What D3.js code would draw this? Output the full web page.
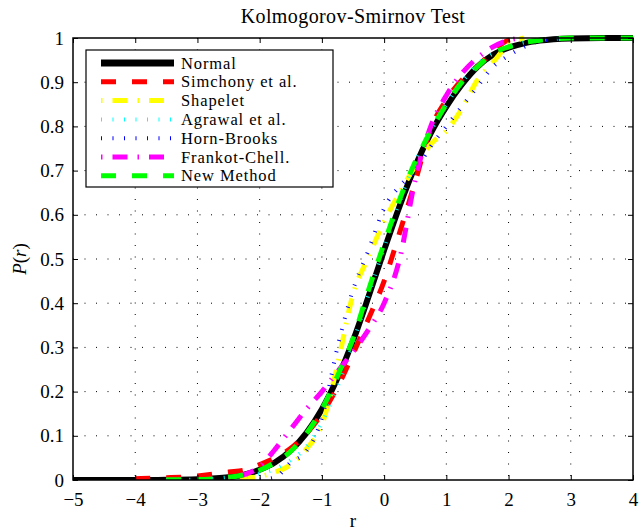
<!DOCTYPE html>
<html><head><meta charset="utf-8">
<script src="https://cdn.jsdelivr.net/npm/d3@7"></script>
<style>body{margin:0;background:#fff}svg{display:block}</style>
</head><body><svg id="c" width="639" height="530"></svg>
<script>
const rGrid = [-5,-4,-3.5,-3,-2.5,-2.25,-2,-1.75,-1.5,-1.25,-1,-0.75,-0.5,-0.25,0,0.25,0.5,0.75,1,1.25,1.5,1.75,2,2.25,2.5,3,3.5,4];
const normalP   = [0,0,0.0003,0.0015,0.006,0.012,0.023,0.04,0.067,0.106,0.16,0.23,0.315,0.415,0.52,0.62,0.71,0.785,0.845,0.895,0.935,0.962,0.978,0.988,0.994,0.999,1,1];
const simchonyP = [null,0.003,0.005,0.009,0.018,0.022,0.035,0.05,0.072,0.105,0.15,0.21,0.285,0.365,0.45,0.56,0.675,0.795,0.86,0.905,0.935,0.97,0.995,1,null,null,null,null];
const shapeletP = [null,null,null,null,0.002,0.004,0.008,0.018,0.035,0.07,0.125,0.26,0.42,0.505,0.585,0.65,0.71,0.76,0.79,0.84,0.905,0.945,0.985,1,null,null,null,null];
const agrawalP  = [null,null,0.0005,0.001,0.006,0.01,0.015,0.025,0.045,0.075,0.13,0.21,0.31,0.42,0.525,0.63,0.72,0.79,0.85,0.9,0.94,0.965,0.98,0.99,0.995,1,null,null];
const hornP     = [null,null,null,null,null,null,0.001,0.006,0.04,0.065,0.14,0.3,0.43,0.52,0.615,0.665,0.7,0.755,0.8,0.845,0.89,0.935,0.96,0.98,0.993,1,null,null];
const frankotP  = [null,null,null,null,0.003,0.012,0.03,0.07,0.115,0.16,0.2,0.245,0.29,0.34,0.4,0.5,0.68,0.8,0.87,0.92,0.955,0.98,0.995,1,null,null,null,null];
const newP      = [null,null,0.0005,0.001,0.006,0.012,0.022,0.04,0.065,0.105,0.16,0.235,0.32,0.43,0.535,0.635,0.72,0.79,0.85,0.9,0.935,0.965,0.98,0.99,0.995,1,1,1];
const seriesNames = ["Normal","Simchony et al.","Shapelet","Agrawal et al.","Horn-Brooks","Frankot-Chell.","New Method"];
const seriesVals = [normalP,simchonyP,shapeletP,agrawalP,hornP,frankotP,newP];
const seriesColors = ["#000000","#ff0000","#ffff00","#00ffff","#0000ff","#ff00ff","#00ff00"];
const seriesWidths = [6,5,5,4,4,5,5];
const seriesDash = [null,"15,16","1.5,10,15,10","1,10.5","1,10.5","1.5,10,15,10","15,16"];
const xTicks = [-5,-4,-3,-2,-1,0,1,2,3,4];
const yTicks = [0,0.1,0.2,0.3,0.4,0.5,0.6,0.7,0.8,0.9,1];
const titleText = "Kolmogorov-Smirnov Test";

const FONT = "'Liberation Serif','Times New Roman',Times,serif";
const svg = d3.select("#c").attr("font-family",FONT);
const L=73,R=633,T=38,B=480;
const x = d3.scaleLinear().domain([-5,4]).range([L,R]);
const y = d3.scaleLinear().domain([0,1]).range([B,T]);

// grid
const g = svg.append("g");
xTicks.slice(1,-1).forEach(t=>g.append("line").attr("x1",x(t)).attr("x2",x(t)).attr("y1",T).attr("y2",B)
  .attr("stroke","#000").attr("stroke-width",1).attr("stroke-dasharray","1,10.5"));
yTicks.slice(1,-1).forEach(t=>g.append("line").attr("y1",y(t)).attr("y2",y(t)).attr("x1",L).attr("x2",R)
  .attr("stroke","#000").attr("stroke-width",1).attr("stroke-dasharray","1,10.5"));

// curves
svg.append("clipPath").attr("id","pc").append("rect").attr("x",L).attr("y",T-3).attr("width",R-L).attr("height",B-T+3);
const line = d3.line().defined(d=>d[1]!==null).x(d=>x(d[0])).y(d=>y(d[1])).curve(d3.curveMonotoneX);
seriesVals.forEach((vals,i)=>{
  const pts = rGrid.map((r,j)=>[r,vals[j]]);
  svg.append("path").attr("d",line(pts)).attr("fill","none").attr("stroke",seriesColors[i])
    .attr("stroke-width",seriesWidths[i]).attr("stroke-dasharray",seriesDash[i]).attr("clip-path","url(#pc)");
});

// axes
const ax = svg.append("g").attr("transform",`translate(0,${B})`).call(d3.axisBottom(x).tickValues(xTicks).tickSize(-5).tickPadding(10).tickFormat(d=>d<0?"\u2212"+Math.abs(d):d));
const ay = svg.append("g").attr("transform",`translate(${L},0)`).call(d3.axisLeft(y).tickValues(yTicks).tickSize(-5).tickPadding(9).tickFormat(d=>d));
svg.append("g").attr("transform",`translate(0,${T})`).call(d3.axisTop(x).tickValues(xTicks).tickSize(-5).tickFormat(""));
svg.append("g").attr("transform",`translate(${R},0)`).call(d3.axisRight(y).tickValues(yTicks).tickSize(-5).tickFormat(""));
svg.selectAll(".domain").remove();
svg.selectAll("g").attr("font-family",FONT);
svg.selectAll(".tick line").attr("stroke","#000");
[ax,ay].forEach(a=>a.selectAll("text").attr("font-size",19).attr("font-family",FONT).attr("fill","#000"));
ax.selectAll("text").attr("dy","0.85em");
svg.append("rect").attr("x",L).attr("y",T).attr("width",R-L).attr("height",B-T).attr("fill","none").attr("stroke","#000").attr("stroke-width",1.5);

// labels
svg.append("text").attr("x",(L+R)/2).attr("y",23).attr("text-anchor","middle").attr("font-size",20).attr("letter-spacing",0.4).attr("font-family",FONT).text(titleText);
svg.append("text").attr("x",(L+R)/2).attr("y",527).attr("text-anchor","middle").attr("font-size",19).attr("font-family",FONT).text("r");
const yl = svg.append("text").attr("transform",`translate(26,${(T+B)/2}) rotate(-90)`).attr("text-anchor","middle").attr("font-size",19).attr("font-family",FONT);
yl.append("tspan").attr("font-style","italic").text("P");
yl.append("tspan").text("(");
yl.append("tspan").attr("font-style","italic").text("r");
yl.append("tspan").text(")");

// legend
const lg = svg.append("g");
lg.append("rect").attr("x",86).attr("y",50).attr("width",247).attr("height",137).attr("fill","#fff").attr("stroke","#000").attr("stroke-width",1.2);
seriesNames.forEach((n,i)=>{
  const yy = 63 + i*18.8;
  lg.append("line").attr("x1",101).attr("x2",174).attr("y1",yy).attr("y2",yy).attr("stroke",seriesColors[i])
    .attr("stroke-width",seriesWidths[i]+(i==0?1:0)).attr("stroke-dasharray",seriesDash[i]);
  lg.append("text").attr("x",181).attr("y",yy+5.5).attr("font-size",16.5).attr("letter-spacing",0.9).attr("font-family",FONT).text(n);
});
</script></body></html>
